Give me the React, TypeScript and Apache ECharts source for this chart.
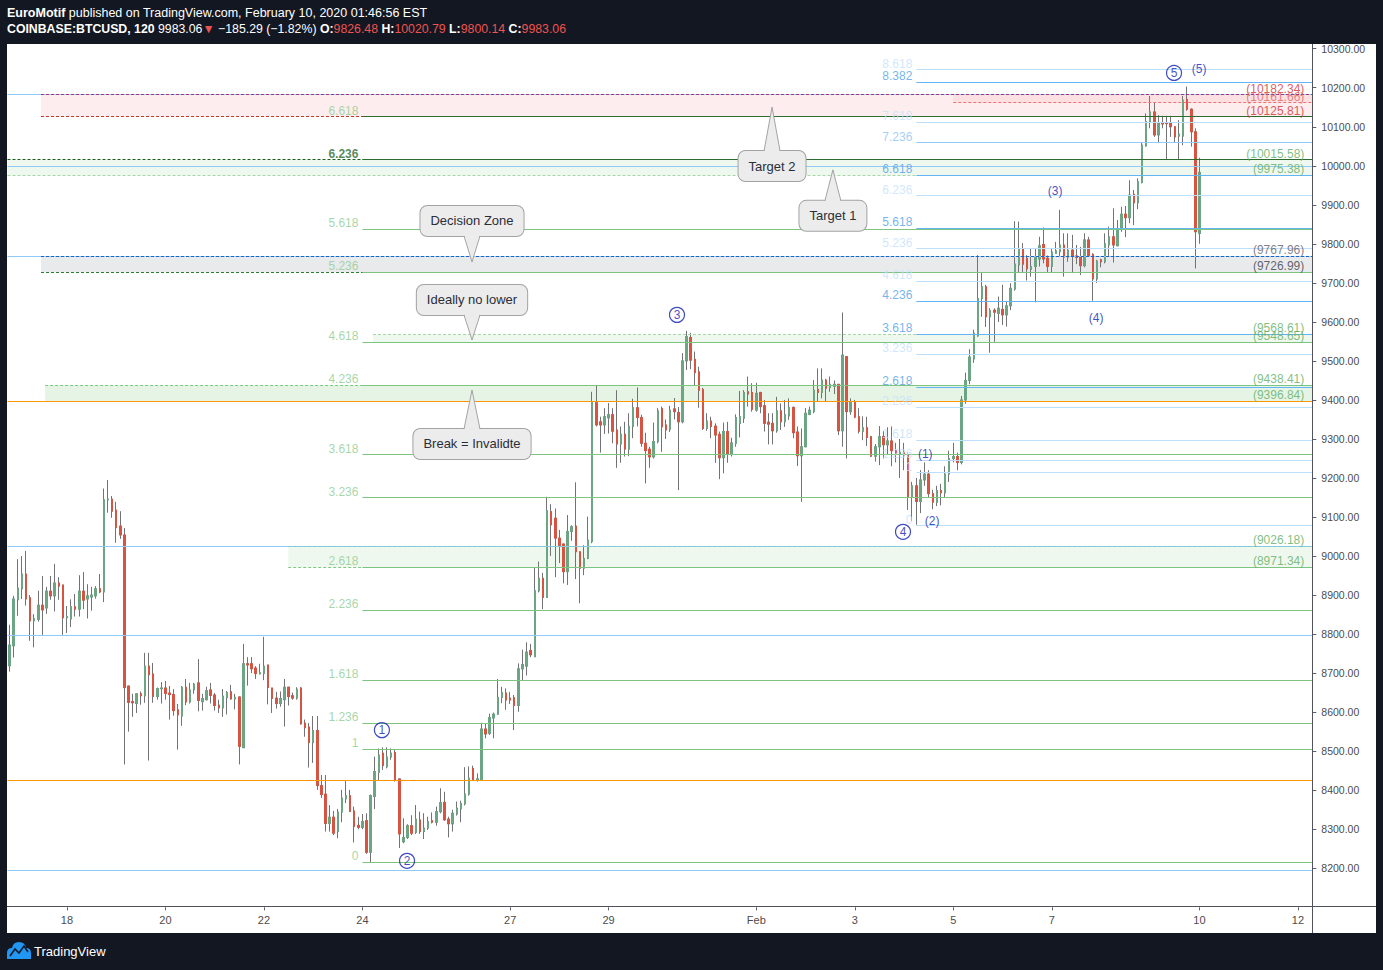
import React, { useEffect, useRef } from 'react';
import * as echarts from 'echarts';

const FONT = '"Liberation Sans", Arial, sans-serif';

// ---------- data ----------
const firstCandle = '2020-01-16 20:00';
const candleHours = 2;
const futureSlots = 27;

// [open, close, low, high] per 2h candle
const candles: number[][] = [
  [8719, 8772, 8704, 8824], [8770, 8890, 8740, 8898], [8888, 8918, 8847, 8992], [8916, 8954, 8890, 9000],
  [8954, 8890, 8873, 9013], [8893, 8834, 8783, 8900], [8834, 8840, 8766, 8851], [8838, 8874, 8832, 8911],
  [8874, 8862, 8798, 8949], [8867, 8910, 8852, 8921], [8910, 8898, 8888, 8949], [8898, 8931, 8858, 8980],
  [8931, 8923, 8888, 8946], [8926, 8842, 8798, 8926], [8842, 8845, 8803, 8872], [8839, 8870, 8818, 8889],
  [8870, 8864, 8845, 8903], [8864, 8910, 8845, 8951], [8910, 8887, 8864, 8959], [8890, 8898, 8840, 8928],
  [8895, 8900, 8860, 8921], [8898, 8916, 8891, 8923], [8916, 8908, 8905, 8954], [8908, 9144, 8882, 9173],
  [9144, 9146, 9111, 9195], [9146, 9115, 9098, 9154], [9118, 9073, 9034, 9139], [9077, 9054, 9044, 9115],
  [9054, 8663, 8466, 9072], [8667, 8625, 8550, 8667], [8627, 8624, 8588, 8647], [8622, 8647, 8598, 8647],
  [8647, 8642, 8619, 8653], [8642, 8718, 8624, 8752], [8718, 8696, 8476, 8752], [8698, 8640, 8624, 8726],
  [8640, 8660, 8632, 8663], [8660, 8662, 8622, 8677], [8662, 8648, 8632, 8680], [8649, 8645, 8581, 8667],
  [8645, 8604, 8591, 8659], [8606, 8593, 8504, 8621], [8590, 8664, 8565, 8667], [8664, 8626, 8618, 8685],
  [8626, 8657, 8622, 8675], [8657, 8672, 8647, 8675], [8675, 8630, 8602, 8736], [8627, 8635, 8604, 8647],
  [8632, 8655, 8630, 8665], [8657, 8643, 8622, 8675], [8644, 8617, 8604, 8649], [8618, 8611, 8598, 8632],
  [8611, 8641, 8588, 8659], [8637, 8650, 8594, 8654], [8652, 8634, 8632, 8670], [8634, 8638, 8607, 8647],
  [8639, 8512, 8466, 8639], [8509, 8724, 8509, 8775], [8724, 8721, 8668, 8741], [8724, 8711, 8700, 8741],
  [8713, 8699, 8685, 8718], [8698, 8701, 8697, 8724], [8699, 8718, 8682, 8793], [8721, 8663, 8620, 8721],
  [8662, 8635, 8598, 8662], [8636, 8622, 8609, 8652], [8622, 8635, 8614, 8653], [8632, 8664, 8563, 8685],
  [8664, 8640, 8617, 8664], [8642, 8636, 8632, 8650], [8636, 8659, 8632, 8664], [8662, 8570, 8568, 8664],
  [8572, 8560, 8537, 8581], [8562, 8522, 8458, 8572], [8522, 8553, 8470, 8590], [8553, 8412, 8401, 8590],
  [8412, 8389, 8380, 8439], [8390, 8315, 8294, 8439], [8315, 8331, 8294, 8362], [8331, 8290, 8285, 8347],
  [8294, 8344, 8277, 8352], [8344, 8380, 8318, 8401], [8378, 8386, 8367, 8426], [8386, 8346, 8344, 8401],
  [8347, 8307, 8266, 8358], [8310, 8305, 8300, 8332], [8305, 8320, 8300, 8339], [8322, 8241, 8237, 8341],
  [8241, 8386, 8214, 8389], [8384, 8448, 8352, 8486], [8446, 8490, 8426, 8507], [8495, 8463, 8452, 8510],
  [8460, 8485, 8456, 8510], [8485, 8495, 8478, 8507], [8497, 8426, 8422, 8503], [8429, 8288, 8252, 8429],
  [8268, 8279, 8264, 8328], [8279, 8309, 8275, 8313], [8309, 8290, 8285, 8336], [8292, 8326, 8288, 8362],
  [8324, 8294, 8288, 8345], [8294, 8303, 8275, 8341], [8303, 8320, 8298, 8332], [8322, 8318, 8315, 8343],
  [8318, 8345, 8309, 8358], [8345, 8368, 8341, 8405], [8369, 8324, 8322, 8396], [8326, 8314, 8279, 8332],
  [8314, 8341, 8294, 8350], [8339, 8354, 8335, 8371], [8352, 8366, 8318, 8373], [8365, 8390, 8361, 8459],
  [8390, 8431, 8386, 8461], [8456, 8426, 8424, 8463], [8425, 8429, 8422, 8443], [8426, 8557, 8424, 8573],
  [8557, 8544, 8533, 8570], [8546, 8586, 8542, 8596], [8585, 8595, 8533, 8599], [8595, 8638, 8593, 8685],
  [8638, 8650, 8623, 8665], [8649, 8631, 8606, 8661], [8636, 8631, 8621, 8652], [8637, 8617, 8554, 8644],
  [8617, 8711, 8601, 8725], [8711, 8722, 8681, 8760], [8718, 8754, 8694, 8779], [8758, 8747, 8741, 8775],
  [8742, 8911, 8741, 8971], [8911, 8943, 8907, 8986], [8943, 8894, 8864, 8957], [8894, 9116, 8894, 9152],
  [9114, 9080, 9000, 9133], [9097, 9046, 8946, 9122], [9046, 9027, 8982, 9067], [9031, 8960, 8930, 9031],
  [8960, 9063, 8926, 9105], [9063, 9075, 9039, 9079], [9077, 9011, 8941, 9189], [9011, 8969, 8879, 9011],
  [8969, 8994, 8951, 9028], [8994, 9041, 8992, 9101], [9037, 9396, 9033, 9421], [9393, 9336, 9332, 9438],
  [9344, 9336, 9265, 9357], [9336, 9357, 9313, 9379], [9354, 9362, 9314, 9392], [9362, 9320, 9289, 9379],
  [9323, 9287, 9226, 9425], [9287, 9312, 9239, 9332], [9312, 9274, 9255, 9344], [9274, 9332, 9256, 9366],
  [9332, 9380, 9302, 9403], [9380, 9355, 9332, 9432], [9355, 9289, 9280, 9362], [9289, 9270, 9186, 9316],
  [9274, 9254, 9226, 9280], [9254, 9293, 9250, 9342], [9293, 9372, 9289, 9379], [9378, 9331, 9267, 9383],
  [9336, 9323, 9300, 9350], [9325, 9374, 9318, 9385], [9377, 9370, 9350, 9405], [9368, 9344, 9169, 9382],
  [9344, 9500, 9340, 9520], [9500, 9562, 9477, 9577], [9560, 9502, 9479, 9572], [9504, 9470, 9438, 9524],
  [9472, 9425, 9380, 9485], [9427, 9327, 9323, 9431], [9327, 9346, 9321, 9366], [9346, 9332, 9302, 9357],
  [9333, 9310, 9239, 9340], [9312, 9252, 9197, 9319], [9252, 9319, 9212, 9342], [9319, 9263, 9239, 9344],
  [9261, 9290, 9255, 9303], [9289, 9355, 9280, 9363], [9340, 9357, 9304, 9423], [9353, 9419, 9341, 9425],
  [9421, 9415, 9383, 9460], [9419, 9376, 9370, 9443], [9374, 9417, 9370, 9444], [9419, 9383, 9366, 9421],
  [9385, 9340, 9319, 9400], [9343, 9338, 9286, 9366], [9340, 9321, 9286, 9366], [9321, 9372, 9316, 9408],
  [9372, 9344, 9323, 9391], [9344, 9362, 9331, 9400], [9359, 9381, 9349, 9404], [9381, 9316, 9302, 9383],
  [9318, 9257, 9231, 9332], [9257, 9280, 9139, 9327], [9280, 9366, 9279, 9379], [9363, 9374, 9361, 9383],
  [9370, 9425, 9366, 9451], [9427, 9419, 9396, 9481], [9419, 9451, 9404, 9481], [9451, 9430, 9396, 9454],
  [9432, 9440, 9421, 9460], [9435, 9440, 9415, 9450], [9440, 9321, 9310, 9440], [9321, 9515, 9280, 9624],
  [9511, 9370, 9250, 9511], [9370, 9396, 9362, 9404], [9396, 9356, 9353, 9400], [9357, 9320, 9314, 9379],
  [9320, 9329, 9297, 9358], [9329, 9304, 9282, 9357], [9306, 9256, 9254, 9308], [9256, 9280, 9242, 9287],
  [9280, 9306, 9233, 9333], [9306, 9285, 9250, 9320], [9285, 9295, 9260, 9330], [9295, 9270, 9230, 9332],
  [9270, 9262, 9240, 9290], [9262, 9266, 9200, 9300], [9266, 9258, 9220, 9290], [9258, 9150, 9118, 9265],
  [9150, 9180, 9090, 9190], [9180, 9140, 9080, 9200], [9140, 9195, 9110, 9220], [9195, 9210, 9180, 9240],
  [9210, 9160, 9150, 9220], [9160, 9138, 9120, 9170], [9138, 9168, 9128, 9180], [9168, 9162, 9130, 9185],
  [9162, 9210, 9150, 9230], [9210, 9250, 9190, 9270], [9250, 9255, 9240, 9290], [9255, 9240, 9220, 9265],
  [9240, 9400, 9235, 9410], [9400, 9450, 9390, 9470], [9450, 9510, 9440, 9530], [9505, 9571, 9495, 9580],
  [9564, 9660, 9562, 9771], [9660, 9690, 9613, 9725], [9690, 9613, 9587, 9695], [9613, 9629, 9521, 9635],
  [9630, 9625, 9549, 9635], [9622, 9635, 9600, 9665], [9632, 9618, 9592, 9695], [9618, 9641, 9588, 9652],
  [9641, 9686, 9630, 9699], [9684, 9748, 9680, 9858], [9746, 9787, 9725, 9857], [9787, 9748, 9725, 9802],
  [9763, 9736, 9706, 9771], [9735, 9742, 9716, 9789], [9742, 9767, 9650, 9789], [9761, 9795, 9742, 9818],
  [9798, 9761, 9750, 9842], [9763, 9742, 9726, 9770], [9742, 9779, 9726, 9789], [9776, 9782, 9775, 9805],
  [9780, 9797, 9769, 9887], [9797, 9766, 9716, 9827], [9766, 9784, 9754, 9827], [9784, 9769, 9725, 9823],
  [9769, 9765, 9748, 9797], [9767, 9744, 9720, 9792], [9744, 9810, 9740, 9827], [9810, 9770, 9769, 9818],
  [9773, 9710, 9654, 9776], [9710, 9756, 9700, 9759], [9759, 9754, 9740, 9762], [9754, 9800, 9750, 9827],
  [9797, 9818, 9769, 9844], [9818, 9797, 9752, 9891], [9795, 9837, 9795, 9861], [9837, 9876, 9831, 9895],
  [9876, 9867, 9817, 9897], [9867, 9925, 9853, 9963], [9927, 9905, 9848, 9938], [9905, 9959, 9889, 9968],
  [9957, 10053, 9955, 10059], [10051, 10113, 10049, 10134], [10113, 10138, 10096, 10179], [10138, 10079, 10074, 10162],
  [10079, 10109, 10058, 10130], [10111, 10107, 10096, 10128], [10110, 10108, 10017, 10128], [10110, 10100, 10074, 10128],
  [10100, 10074, 10059, 10102], [10076, 10081, 10017, 10117], [10076, 10168, 10053, 10179], [10170, 10145, 10141, 10203],
  [10145, 10087, 10049, 10147], [10087, 9831, 9737, 10096], [9826.48, 9983.06, 9800.14, 10020.79],
];

const dayTicks = ['2020-01-18', '2020-01-20', '2020-01-22', '2020-01-24', '2020-01-27', '2020-01-29',
  '2020-02-01', '2020-02-03', '2020-02-05', '2020-02-07', '2020-02-10', '2020-02-12'];

const priceMin = 8100;
const priceMax = 10300;
const priceStep = 100;

const leftFibStart = '2020-01-24 00:00';
const leftFibZero = 8215.74;
const leftFibOne = 8504.36;
const leftFibLevels = [0, 1, 1.236, 1.618, 2.236, 2.618, 3.236, 3.618, 4.236, 4.618, 5.236, 5.618, 6.236, 6.618];

const blueFibStart = '2020-02-04 06:00';
const blueFibZero = 9078.05;
const blueFibOne = 9213.64;
const blueFibLevels = [0, 1, 1.236, 1.618, 2.236, 2.618, 3.236, 3.618, 4.236, 4.618, 5.236, 5.618,
  6.236, 6.618, 7.236, 7.618, 8.382, 8.618];

const zoneStart = ['2020-01-17 11:20', '2020-02-05 00:00', '2020-01-16 19:00', '2020-01-17 11:20',
  '2020-01-24 05:10', '2020-01-17 13:20', '2020-01-22 11:50'];
const zoneTop = [10182.34, 10182.34, 10015.58, 9767.96, 9568.61, 9438.41, 9026.18];
const zoneBottom = [10125.81, 10161.66, 9975.38, 9726.99, 9548.65, 9396.84, 8971.34];

const guideLines = [10182.34, 9998.5, 9767.96, 9026.18, 8797.5, 8195.5];
const orangeLines = [9396.84, 8425.4];

const waveCircledText = ['1', '2', '3', '4', '5'];
const waveCircledTime = ['2020-01-24 09:30', '2020-01-24 21:45', '2020-01-30 09:20', '2020-02-03 23:30', '2020-02-09 11:36'];
const waveCircledPrice = [8554, 8219, 9618, 9062, 10238];

const waveSubText = ['(1)', '(2)', '(3)', '(4)', '(5)'];
const waveSubTime = ['2020-02-04 10:20', '2020-02-04 13:40', '2020-02-07 01:40', '2020-02-07 21:40', '2020-02-09 23:50'];
const waveSubPrice = [9262, 9090, 9935, 9610, 10248];

const calloutText = ['Target 2', 'Target 1', 'Decision Zone', 'Ideally no lower', 'Break = Invalidte'];
const calloutTime = ['2020-02-01 07:40', '2020-02-02 13:20', '2020-01-26 05:25', '2020-01-26 05:25', '2020-01-26 05:25'];
const calloutPrice = [10150.6, 9989.7, 9753.5, 9553.6, 9425.5];

// ---------- styles ----------
const UP = '#6ba583';
const DOWN = '#d75442';
const WICK = '#737375';
const WAVE = '#0f1fb5';
const LIGHT_BLUE = '#90caf9';
const RED_LABEL = '#d8302c';
const GREEN_LABEL = '#5fae62';
const calloutDir = ['up', 'up', 'down', 'down', 'up'];
const calloutGap = [44, 31, 26, 25, 39];

const zoneStyle = [
  { fill: 'rgba(242,54,69,0.09)', top: '#a8336d', bottom: '#c0392b', labelTop: RED_LABEL, labelBottom: RED_LABEL },
  { fill: 'rgba(242,54,69,0.07)', top: null, bottom: '#ef7370', labelTop: null, labelBottom: '#e06666' },
  { fill: 'rgba(76,175,80,0.09)', top: '#1b5e20', bottom: '#a5d6a7', labelTop: GREEN_LABEL, labelBottom: GREEN_LABEL },
  { fill: 'rgba(120,123,134,0.16)', top: '#1e63c4', bottom: '#2e7d32', labelTop: '#5d606b', labelBottom: '#3a3d48' },
  { fill: 'rgba(76,175,80,0.09)', top: '#a5d6a7', bottom: '#81c784', labelTop: GREEN_LABEL, labelBottom: GREEN_LABEL },
  { fill: 'rgba(76,175,80,0.14)', top: '#81c784', bottom: null, labelTop: GREEN_LABEL, labelBottom: GREEN_LABEL },
  { fill: 'rgba(76,175,80,0.09)', top: '#80cbc4', bottom: '#81c784', labelTop: GREEN_LABEL, labelBottom: GREEN_LABEL },
];

const toTs = (s: string) => {
  const [d, t = '00:00'] = s.split(' ');
  const [Y, M, D] = d.split('-').map(Number);
  const [h, m] = t.split(':').map(Number);
  return Date.UTC(Y, M - 1, D, h, m);
};
const pad = (n: number) => (n < 10 ? '0' + n : '' + n);

export default function App() {
  const ref = useRef<HTMLDivElement>(null);

  useEffect(() => {
    document.body.style.margin = '0';
    if (!ref.current) return;
    const chart = echarts.init(ref.current, undefined, { renderer: 'svg' });

    const STEP = candleHours * 3600 * 1000;
    const T0 = toTs(firstCandle);
    const SLOTS = candles.length + futureSlots;
    const xMin = T0 - STEP / 2;
    const xMax = T0 + (SLOTS - 0.5) * STEP;

    const cats: string[] = [];
    for (let i = 0; i < SLOTS; i++) {
      const d = new Date(T0 + i * STEP);
      cats.push(`${d.getUTCFullYear()}-${pad(d.getUTCMonth() + 1)}-${pad(d.getUTCDate())} ${pad(d.getUTCHours())}:00`);
    }
    const tickSet = new Set(dayTicks.map((d) => d + ' 00:00'));
    const showTick = (_i: number, v: string) => tickSet.has(v);
    const fmtDay = (v: string) => {
      const day = Number(v.slice(8, 10));
      return day === 1 ? 'Feb' : String(day);
    };

    const lines: any[] = [];
    const addLine = (x1: number, x2: number, y: number, color: string, type: any = 'solid', width = 1) => {
      lines.push([{ coord: [x1, y], lineStyle: { color, type, width } }, { coord: [x2, y] }]);
    };
    const areas: any[] = [];
    const labels: any[] = [];
    const addLabel = (x: number, y: number, text: string, color: string, align: string, dx: number, dy: number, bold = false) => {
      labels.push({
        value: [x, y],
        label: { formatter: text, color, align, offset: [dx, dy], fontWeight: bold ? 'bold' : 'normal' },
      });
    };

    guideLines.forEach((v) => addLine(xMin, xMax, v, LIGHT_BLUE));
    orangeLines.forEach((v) => addLine(xMin, xMax, v, '#ff9800'));

    zoneTop.forEach((top, i) => {
      const st = zoneStyle[i];
      const x1 = toTs(zoneStart[i]);
      const bot = zoneBottom[i];
      areas.push([{ coord: [x1, top], itemStyle: { color: st.fill } }, { coord: [xMax, bot] }]);
      if (st.top) addLine(x1, xMax, top, st.top, [3, 2]);
      if (st.bottom) addLine(x1, xMax, bot, st.bottom, [3, 2]);
      if (st.labelTop) addLabel(xMax, top, `(${top.toFixed(2)})`, st.labelTop, 'right', -8, -6);
      if (st.labelBottom) addLabel(xMax, bot, `(${bot.toFixed(2)})`, st.labelBottom, 'right', -8, -6);
    });

    const lfStart = toTs(leftFibStart);
    leftFibLevels.forEach((lv) => {
      const v = leftFibZero + lv * (leftFibOne - leftFibZero);
      const dark = lv === 6.236 || lv === 6.618;
      addLine(lfStart, xMax, v, dark ? '#2e6b30' : '#7cc47f');
      addLabel(lfStart, v, String(lv), lv === 6.236 ? '#2e6b30' : '#8fcc92', 'right', -4, -6, lv === 6.236);
    });

    const bfStart = toTs(blueFibStart);
    const strong = new Set([8.382, 6.618, 5.618, 4.236, 3.618, 2.618]);
    blueFibLevels.forEach((lv) => {
      const v = blueFibZero + lv * (blueFibOne - blueFibZero);
      const c = strong.has(lv) ? '#64b5f6' : lv === 7.236 ? '#90caf9' : '#bbdefb';
      addLine(bfStart, xMax, v, c);
      addLabel(bfStart, v, String(lv), strong.has(lv) ? '#4f9fe8' : lv === 7.236 ? '#8cc3f2' : '#c5e1fb', 'right', -4, -6);
    });

    const waveCircled = waveCircledText.map((t, i) => ({ value: [toTs(waveCircledTime[i]), waveCircledPrice[i]], name: t }));
    const waveSub = waveSubText.map((t, i) => ({ value: [toTs(waveSubTime[i]), waveSubPrice[i]], name: t }));
    const callouts = calloutText.map((t, i) => ({ value: [toTs(calloutTime[i]), calloutPrice[i]], name: t }));

    const option: any = {
      animation: false,
      textStyle: { fontFamily: FONT },
      grid: { left: 7.5, right: 70.7, top: 48.7, bottom: 62.7, containLabel: false },
      xAxis: [
        {
          type: 'category',
          data: cats,
          boundaryGap: true,
          axisLine: { show: false },
          axisTick: { show: true, interval: showTick, alignWithLabel: true, length: 3, lineStyle: { color: '#5d606b' } },
          axisLabel: { show: true, interval: showTick, formatter: fmtDay, color: '#4c4c4c', fontSize: 11, margin: 7, fontFamily: FONT },
          splitLine: { show: false },
        },
        { type: 'value', min: xMin, max: xMax, show: false, splitLine: { show: false } },
      ],
      yAxis: {
        type: 'value',
        position: 'right',
        min: priceMin,
        max: priceMax,
        interval: priceStep,
        scale: true,
        splitLine: { show: false },
        axisLine: { show: false },
        axisTick: { show: true, length: 4, lineStyle: { color: '#5d606b' } },
        axisLabel: { color: '#4c4c4c', fontSize: 10.5, margin: 9, fontFamily: FONT, showMinLabel: false, formatter: (v: number) => v.toFixed(2) },
      },
      graphic: [
        { type: 'line', shape: { x1: 1312.5, y1: 44, x2: 1312.5, y2: 933 }, style: { stroke: '#50535e', lineWidth: 1 }, z: 100 },
        { type: 'line', shape: { x1: 7, y1: 906.5, x2: 1376, y2: 906.5 }, style: { stroke: '#50535e', lineWidth: 1 }, z: 100 },
        {
          type: 'text', z: 100,
          style: {
            x: 7, y: 13, verticalAlign: 'middle', fill: '#ffffff', font: `12.5px ${FONT}`,
            text: '{b|EuroMotif} published on TradingView.com, February 10, 2020 01:46:56 EST',
            rich: { b: { fontWeight: 'bold', fill: '#ffffff', fontSize: 12.5, fontFamily: FONT } },
          },
        },
        {
          type: 'text', z: 100,
          style: {
            x: 7, y: 29, verticalAlign: 'middle', fill: '#ffffff', font: `12.3px ${FONT}`,
            text: '{b|COINBASE:BTCUSD, 120} 9983.06{r|▼} −185.29 (−1.82%) {b|O:}{r|9826.48} {b|H:}{r|10020.79} {b|L:}{r|9800.14} {b|C:}{r|9983.06}',
            rich: {
              b: { fontWeight: 'bold', fill: '#ffffff', fontSize: 12.3, fontFamily: FONT },
              r: { fill: '#ef5350', fontSize: 12.3, fontFamily: FONT },
            },
          },
        },
        {
          type: 'group', x: 7, y: 942, z: 100,
          children: [
            { type: 'tvlogo', style: { fill: '#2196f3' } },
            { type: 'polyline', shape: { points: [[3, 14], [8, 7], [12, 11], [17, 4], [21, 10]] }, style: { stroke: '#131722', lineWidth: 1.5, fill: null } },
          ],
        },
        { type: 'text', z: 100, style: { x: 34, y: 951, verticalAlign: 'middle', text: 'TradingView', fill: '#ffffff', font: `13px ${FONT}` } },
      ],
      series: [
        {
          type: 'line',
          xAxisIndex: 1,
          data: [[xMin, 8000]],
          symbol: 'none',
          lineStyle: { width: 0 },
          silent: true,
          z: 1,
          markArea: { silent: true, z: 1, data: areas, label: { show: false } },
          markLine: { silent: true, z: 5, symbol: ['none', 'none'], label: { show: false }, data: lines },
        },
        {
          type: 'candlestick',
          name: 'wick',
          xAxisIndex: 0,
          data: candles.map((c) => [c[0], c[1], c[2], c[3]]),
          barWidth: 2,
          silent: true,
          z: 3,
          itemStyle: { color: WICK, color0: WICK, borderColor: WICK, borderColor0: WICK, borderWidth: 1 },
        },
        {
          type: 'candlestick',
          name: 'body',
          xAxisIndex: 0,
          data: candles.map((c) => [c[0], c[1], Math.min(c[0], c[1]), Math.max(c[0], c[1])]),
          barWidth: 2,
          silent: true,
          z: 4,
          itemStyle: { color: UP, color0: DOWN, borderColor: UP, borderColor0: DOWN, borderWidth: 1 },
        },
        {
          type: 'scatter',
          xAxisIndex: 1,
          symbolSize: 0,
          silent: true,
          z: 6,
          data: labels,
          label: { show: true, position: [0, 0], verticalAlign: 'middle', fontSize: 12, fontFamily: FONT },
        },
        {
          type: 'scatter',
          xAxisIndex: 1,
          symbol: 'circle',
          symbolSize: 15,
          silent: true,
          z: 7,
          data: waveCircled,
          itemStyle: { color: 'rgba(255,255,255,0)', borderColor: WAVE, borderWidth: 1.2 },
          label: { show: true, position: 'inside', formatter: '{b}', color: WAVE, fontSize: 12, fontFamily: FONT },
        },
        {
          type: 'scatter',
          xAxisIndex: 1,
          symbolSize: 0,
          silent: true,
          z: 7,
          data: waveSub,
          label: { show: true, position: [0, 0], align: 'center', verticalAlign: 'middle', formatter: '{b}', color: WAVE, fontSize: 12, fontFamily: FONT },
        },
        {
          type: 'custom',
          xAxisIndex: 1,
          silent: true,
          z: 8,
          clip: false,
          data: callouts,
          renderItem: (params: any, api: any) => {
            const i = params.dataIndex;
            const p = api.coord([api.value(0), api.value(1)]);
            const up = calloutDir[i] === 'up';
            const gap = calloutGap[i];
            const H = 30;
            const edgeY = up ? p[1] + gap : p[1] - gap;
            const cy = up ? edgeY + H / 2 : edgeY - H / 2;
            const inner = up ? edgeY + 1.5 : edgeY - 1.5;
            const hw = 8;
            return {
              type: 'group',
              children: [
                {
                  type: 'text',
                  style: {
                    text: calloutText[i], x: p[0], y: cy, align: 'center', verticalAlign: 'middle',
                    fill: '#2a2e39', font: `13px ${FONT}`, lineHeight: 16,
                    backgroundColor: '#ececec', borderColor: '#a3a3a3', borderWidth: 1, borderRadius: 7, padding: [7, 10],
                  },
                },
                { type: 'polygon', shape: { points: [[p[0] - hw, inner], [p[0], p[1]], [p[0] + hw, inner]] }, style: { fill: '#ececec' } },
                { type: 'polyline', shape: { points: [[p[0] - hw, edgeY], [p[0], p[1]], [p[0] + hw, edgeY]] }, style: { stroke: '#a3a3a3', lineWidth: 1, fill: null } },
              ],
            };
          },
        },
      ],
    };

    chart.setOption(option);
    return () => chart.dispose();
  }, []);

  return (
    <div style={{ position: 'relative', width: 1383, height: 970, background: '#131722', overflow: 'hidden' }}>
      <div style={{ position: 'absolute', left: 7, top: 44, width: 1369, height: 889, background: '#ffffff' }} />
      <div ref={ref} style={{ position: 'absolute', left: 0, top: 0, width: 1383, height: 970 }} />
    </div>
  );
}

echarts.graphic.registerShape(
  'tvlogo',
  echarts.graphic.extendPath('M0 17 L0 11 Q0 6 5 6 Q6 0 12 0 Q18 0 19 6 Q24 6 24 11 L24 17 Z', {})
);
